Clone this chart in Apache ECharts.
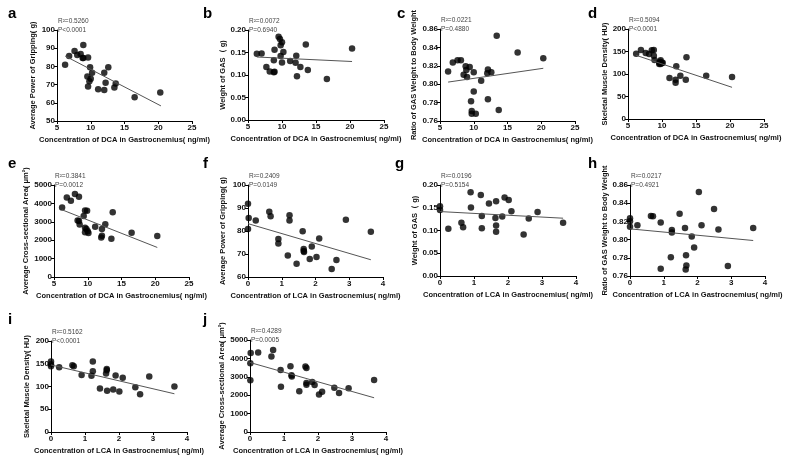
<!DOCTYPE html>
<html>
<head>
<meta charset="utf-8">
<script src="https://cdn.jsdelivr.net/npm/echarts@6/dist/echarts.min.js"></script>
<style>
  html, body { margin: 0; padding: 0; background: #fff; }
  #main { width: 789px; height: 464px; }
</style>
</head>
<body>
<div id="main"></div>
<script>
// 数据：DCA 面板 a-e
var ptsA = [[6.2,80.9],[6.8,85.7],[7.6,88.4],[8.0,86.2],[8.5,86.8],[8.8,84.6],[8.9,91.7],[8.9,84.6],[9.6,84.9],[9.5,74.4],[9.6,68.9],[9.8,71.9],[9.9,79.6],[10.0,73.2],[10.2,76.5],[11.1,67.5],[12.0,76.5],[12.2,71.0],[12.0,67.1],[12.6,79.6],[13.5,68.4],[13.7,70.6],[16.5,63.1],[20.3,65.6]];
var fitA = [[6.2,85.7],[20.4,58.3]];
var ptsB = [[6.3,0.147],[7.0,0.148],[7.7,0.118],[8.2,0.108],[8.8,0.133],[8.9,0.156],[8.8,0.106],[8.9,0.107],[9.5,0.185],[9.7,0.180],[9.8,0.166],[9.8,0.142],[10.0,0.173],[10.0,0.128],[10.2,0.151],[11.2,0.131],[12.0,0.127],[12.1,0.143],[12.2,0.097],[12.7,0.118],[13.5,0.168],[13.8,0.111],[16.6,0.091],[20.3,0.159]];
var fitB = [[6.3,0.140],[20.3,0.130]];
var ptsC = [[6.2,0.8137],[6.9,0.8235],[7.6,0.826],[8.1,0.826],[8.5,0.8104],[8.8,0.8195],[8.9,0.8155],[9.0,0.8078],[9.4,0.8188],[9.6,0.7815],[9.7,0.771],[9.7,0.768],[10.0,0.8129],[10.0,0.7921],[10.3,0.768],[11.1,0.8038],[12.0,0.8118],[12.1,0.816],[12.1,0.7837],[12.6,0.813],[13.4,0.8527],[13.7,0.772],[16.5,0.8345],[20.3,0.8282]];
var fitC = [[6.2,0.8023],[20.3,0.8173]];
var ptsD = [[6.2,145.2],[6.9,153.3],[7.6,146.7],[8.1,144.4],[8.5,152.6],[8.8,140.7],[8.8,153.3],[8.9,131.1],[9.6,125.2],[9.7,127.4],[9.8,130.4],[9.6,122.2],[9.8,122.2],[10.0,124.4],[10.1,125.2],[11.1,91.1],[12.1,117.0],[12.0,87.4],[12.0,80.7],[12.7,96.3],[13.5,87.4],[13.6,137.0],[16.5,96.3],[20.3,93.3]];
var fitD = [[6.2,141.5],[20.3,70.4]];
var ptsE = [[6.2,3777],[6.9,4325],[7.5,4142],[8.1,4507],[8.5,3066],[8.7,4361],[8.7,3047],[8.8,2847],[9.4,3321],[9.6,3613],[9.6,2682],[9.6,2427],[9.8,2609],[9.9,3595],[10.0,2482],[10.1,2390],[11.1,2737],[12.0,2153],[12.1,2245],[12.1,2609],[12.6,2865],[13.5,2080],[13.7,3522],[16.5,2409],[20.3,2226]];
var fitE = [[6.2,3650],[20.3,1606]];
// 数据：LCA 面板 f-j
var ptsF = [[0,91.9],[0.02,85.7],[0,80.9],[0.23,84.6],[0.63,88.4],[0.67,86.4],[0.9,76.5],[0.9,74.6],[1.18,69.3],[1.23,86.8],[1.23,84.6],[1.44,65.8],[1.62,79.9],[1.65,72.2],[1.65,71.3],[1.66,70.9],[1.83,67.8],[1.89,73.3],[2.03,68.7],[2.11,76.7],[2.48,63.5],[2.62,67.4],[2.9,84.9],[3.64,79.7]];
var fitF = [[0,83.2],[3.64,67.5]];
var ptsG = [[0,0.1533],[0,0.1453],[0.245,0.1036],[0.63,0.1168],[0.68,0.1073],[0.9,0.1839],[0.91,0.1504],[1.2,0.1781],[1.23,0.1321],[1.23,0.1051],[1.44,0.1591],[1.63,0.1277],[1.65,0.1642],[1.65,0.1109],[1.65,0.0971],[1.83,0.1307],[1.9,0.1723],[2.02,0.1672],[2.1,0.1423],[2.46,0.0912],[2.61,0.1263],[2.87,0.1409],[3.62,0.1168]];
var fitG = [[0,0.1416],[3.62,0.127]];
var ptsH = [[0,0.8235],[0,0.8203],[0,0.814],[0.22,0.8158],[0.62,0.826],[0.68,0.8257],[0.91,0.8188],[0.91,0.768],[1.21,0.7807],[1.24,0.8106],[1.24,0.8077],[1.47,0.8285],[1.63,0.8127],[1.66,0.7829],[1.67,0.7716],[1.65,0.7672],[1.83,0.8033],[1.9,0.7912],[2.04,0.8523],[2.12,0.8158],[2.49,0.8337],[2.62,0.8111],[2.9,0.7709],[3.65,0.8127]];
var fitH = [[0,0.8118],[3.65,0.799]];
var ptsI = [[0,154.7],[0,148.9],[0,144.5],[0.24,142.3],[0.63,146.7],[0.67,144.5],[0.9,125.5],[1.19,123.4],[1.23,154.7],[1.23,133.6],[1.44,95.6],[1.62,128.5],[1.64,138.7],[1.64,135.8],[1.65,90.5],[1.83,93.4],[1.9,124.1],[2.01,89.1],[2.11,119],[2.48,98.5],[2.62,83.2],[2.89,121.9],[3.63,100]];
var fitI = [[0,147.4],[3.63,84]];
var ptsJ = [[0.02,4288],[0.01,3741],[0.01,2810],[0.24,4325],[0.63,4106],[0.68,4453],[0.9,3376],[0.91,2464],[1.19,3577],[1.22,3084],[1.23,3011],[1.45,2208],[1.63,3558],[1.66,3485],[1.66,2664],[1.66,2573],[1.83,2719],[1.9,2555],[2.03,2044],[2.12,2190],[2.48,2409],[2.62,2117],[2.9,2372],[3.65,2828]];
var fitJ = [[0,3777],[3.65,1861]];

var r2Texts = ['R²=0.5260','R²=0.0072','R²=0.0221','R²=0.5094','R²=0.3841','R²=0.2409','R²=0.0196','R²=0.0217','R²=0.5162','R²=0.4289'];
var pTexts = ['P<0.0001','P=0.6940','P=0.4880','P<0.0001','P=0.0012','P=0.0149','P=0.5154','P=0.4921','P<0.0001','P=0.0005'];
var yNames = ['Average Power of Gripping( g)','Weight of GAS（ g)','Ratio of GAS Weight to Body Weight','Skeletal Muscle Density( HU)','Average Cross-sectional Area( μm²)',
              'Average Power of Gripping( g)','Weight of GAS（ g)','Ratio of GAS Weight to Body Weight','Skeletal Muscle Density( HU)','Average Cross-sectional Area( μm²)'];
var xNameDCA = 'Concentration of DCA in Gastrocnemius( ng/ml)';
var xNameLCA = 'Concentration of LCA in Gastrocnemius( ng/ml)';

var allPts = [ptsA, ptsB, ptsC, ptsD, ptsE, ptsF, ptsG, ptsH, ptsI, ptsJ];
var allFit = [fitA, fitB, fitC, fitD, fitE, fitF, fitG, fitH, fitI, fitJ];
var letters = ['a','b','c','d','e','f','g','h','i','j'];

// 坐标轴范围 [min, max, interval, 小数位]
var yRange = [[50,100,10,0],[0,0.2,0.05,2],[0.76,0.86,0.02,2],[0,200,50,0],[0,5000,1000,0],
              [60,100,10,0],[0,0.2,0.05,2],[0.76,0.86,0.02,2],[0,200,50,0],[0,5000,1000,0]];

// 布局 [left, top, width, height, yNameGap]
var layout = [
  [57,30,135,91,20],[248,30,136,90,20],[440,29,135,92,22],[628,29,136,90,18],
  [54,185,135,92,23],[248,185,135,92,21],[440,185,136,91,21],[630,185,135,91,21],
  [51,341,136,91,20],[250,340,136,92,23]
];

var lblFont = 'Liberation Sans, Arial, sans-serif';
var grids = [], xAxes = [], yAxes = [], series = [], graphics = [];

for (var i = 0; i < 10; i++) {
  var L = layout[i];
  var isDCA = i < 5;
  grids.push({ left: L[0], top: L[1], width: L[2], height: L[3] });
  xAxes.push({
    gridIndex: i, type: 'value',
    min: isDCA ? 5 : 0, max: isDCA ? 25 : 4, interval: isDCA ? 5 : 1,
    name: isDCA ? xNameDCA : xNameLCA,
    nameLocation: 'middle', nameGap: 15,
    nameTextStyle: { fontFamily: lblFont, fontWeight: 'bold', fontSize: 7.5, color: '#111' },
    axisLine: { lineStyle: { color: '#000', width: 1 } },
    axisTick: { length: 3, lineStyle: { color: '#000' } },
    axisLabel: { fontFamily: lblFont, fontWeight: 'bold', fontSize: 8, color: '#111', margin: 3 },
    splitLine: { show: false }
  });
  (function (dec) {
    yAxes.push({
      gridIndex: i, type: 'value',
      min: yRange[i][0], max: yRange[i][1], interval: yRange[i][2],
      name: yNames[i], nameLocation: 'middle', nameGap: L[4], nameRotate: 90,
      nameTextStyle: { fontFamily: lblFont, fontWeight: 'bold', fontSize: 7.5, color: '#111' },
      axisLine: { show: true, lineStyle: { color: '#000', width: 1 } },
      axisTick: { show: true, length: 3, lineStyle: { color: '#000' } },
      axisLabel: { fontFamily: lblFont, fontWeight: 'bold', fontSize: 8, color: '#111', margin: 2,
        formatter: function (v) { return v.toFixed(dec); } },
      splitLine: { show: false }
    });
  })(yRange[i][3]);
  series.push({
    type: 'scatter', xAxisIndex: i, yAxisIndex: i,
    data: allPts[i], symbolSize: 6.5,
    itemStyle: { color: '#000' }, silent: true
  });
  series.push({
    type: 'line', xAxisIndex: i, yAxisIndex: i,
    data: allFit[i], symbol: 'none',
    lineStyle: { color: '#555', width: 1 }, silent: true
  });
  graphics.push({ type: 'text', left: L[0] + 1, top: L[1] - 12,
    style: { text: r2Texts[i], font: '6.5px ' + lblFont, fill: '#444' } });
  graphics.push({ type: 'text', left: L[0] + 1, top: L[1] - 3,
    style: { text: pTexts[i], font: '6.5px ' + lblFont, fill: '#444' } });
}

// 面板字母
var letterPos = [[8,6],[203,6],[397,6],[588,6],[8,156],[203,156],[395,156],[588,156],[8,312],[203,312]];
for (var k = 0; k < 10; k++) {
  graphics.push({ type: 'text', left: letterPos[k][0], top: letterPos[k][1],
    style: { text: letters[k], font: 'bold 15px ' + lblFont, fill: '#000' } });
}

var chart = echarts.init(document.getElementById('main'));
chart.setOption({
  backgroundColor: '#fff',
  animation: false,
  grid: grids,
  xAxis: xAxes,
  yAxis: yAxes,
  series: series,
  graphic: graphics
});
</script>
</body>
</html>
